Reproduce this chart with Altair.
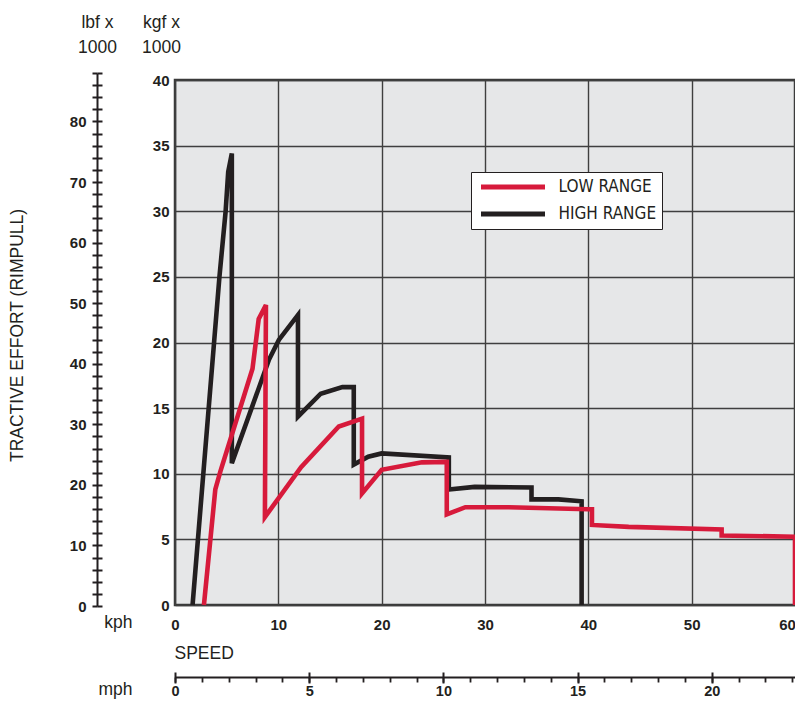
import altair as alt
import pandas as pd

INK = "#231f20"
RED = "#d71a3b"
BLACK = "#231f20"
FONT = "Liberation Sans"
LEGEND_FONT = "DejaVu Sans Condensed, sans-serif"

# ---- data ----
series_names = ["LOW RANGE", "HIGH RANGE"]

high_kph = [1.7, 4.3, 4.9, 5.15, 5.5, 5.5, 9.1, 10.05, 11.9, 11.9, 14.1, 16.2, 17.3, 17.3,
            18.7, 20.0, 26.5, 26.5, 29.0, 34.5, 34.5, 37.1, 39.35, 39.35]
high_kgf = [0.0, 25.0, 30.0, 33.0, 34.4, 10.8, 18.7, 20.2, 22.1, 14.35, 16.1, 16.6, 16.6, 10.7,
            11.3, 11.55, 11.25, 8.8, 9.0, 8.95, 8.05, 8.05, 7.9, 0.0]

low_kph = [2.8, 3.9, 4.4, 7.5, 8.1, 8.8, 8.7, 12.2, 15.85, 18.1, 18.1, 20.0, 23.9, 26.3, 26.3,
           28.1, 32.3, 40.0, 40.35, 40.35, 43.9, 52.9, 52.9, 60.0, 60.0]
low_kgf = [0.0, 8.8, 10.2, 18.0, 21.8, 22.85, 6.7, 10.5, 13.6, 14.2, 8.5, 10.3, 10.87, 10.9, 6.9,
           7.45, 7.45, 7.3, 7.3, 6.1, 5.95, 5.75, 5.3, 5.2, 0.0]

kph_ticks = [0, 10, 20, 30, 40, 50, 60]
kgf_ticks = [0, 5, 10, 15, 20, 25, 30, 35, 40]
lbf_ticks = list(range(0, 89, 2))
mph_minor = list(range(0, 24))
mph_major = [0, 5, 10, 15, 20]

# ---- tables ----
rows = []
for i, (x, y) in enumerate(zip(high_kph, high_kgf)):
    rows.append({"series": "HIGH RANGE", "i": i, "kph": x, "kgf": y})
for i, (x, y) in enumerate(zip(low_kph, low_kgf)):
    rows.append({"series": "LOW RANGE", "i": i, "kph": x, "kgf": y})
lines_df = pd.DataFrame(rows)
lbf_df = pd.DataFrame({"lbf": lbf_ticks})
mph_df = pd.DataFrame({"mph": mph_minor})

color_scale = alt.Scale(domain=series_names, range=[RED, BLACK])

base = alt.Chart(lines_df).encode(
    x=alt.X("kph:Q", scale=alt.Scale(domain=[0, 60], nice=False, zero=True),
            axis=alt.Axis(values=kph_ticks, grid=True, ticks=False, tickSize=0, domain=False,
                          labelPadding=12, labelFontWeight="bold", labelFontSize=15,
                          labelFlush=False,
                          labelOffset=alt.condition("datum.value == 60", alt.value(-8), alt.value(0)),
                          title="kph", titleX=-43, titleY=22, titleAlign="right",
                          titleBaseline="alphabetic", titleFontWeight="normal", titleFontSize=17.5)),
    y=alt.Y("kgf:Q", scale=alt.Scale(domain=[0, 40], nice=False),
            axis=alt.Axis(values=kgf_ticks, grid=True, ticks=False, tickSize=0, domain=False,
                          labelPadding=6, labelFontWeight="bold", labelFontSize=15,
                          title=["kgf x", "1000"], titleAngle=0, titleX=-14, titleY=-53,
                          titleAlign="center", titleBaseline="alphabetic", titleLineHeight=25,
                          titleFontWeight="normal", titleFontSize=17.5)),
    color=alt.Color("series:N", scale=color_scale,
                    legend=alt.Legend(title=None, orient="none", legendX=296, legendY=92,
                                      direction="vertical", fillColor="white",
                                      strokeColor=INK, padding=5, rowPadding=7,
                                      clipHeight=20,
                                      symbolType="stroke", symbolStrokeWidth=5,
                                      symbolSize=4096, symbolOffset=2.5,
                                      labelFont=LEGEND_FONT, labelFontWeight="normal",
                                      labelFontSize=17, labelColor=INK, labelOffset=11,
                                      labelExpr="datum.label + '\u00a0'")),
    order="i:Q",
)

black = base.transform_filter("datum.series == 'HIGH RANGE'").mark_line(
    strokeWidth=4.6, strokeJoin="miter", strokeCap="butt")
red = base.transform_filter("datum.series == 'LOW RANGE'").mark_line(
    strokeWidth=4.6, strokeJoin="miter", strokeCap="butt")
lines = alt.layer(black, red)

lbf_scale = alt.Scale(domain=[0, 88], range=[526, -7], nice=False, zero=True)

lbf_a = alt.Chart(lbf_df).mark_point(opacity=0).encode(
    y=alt.Y("lbf:Q", scale=lbf_scale,
            axis=alt.Axis(orient="left", offset=78, values=lbf_ticks, grid=False,
                          tickSize=5, tickWidth=2, tickColor=INK,
                          domain=True, domainWidth=2, domainColor=INK,
                          labelExpr="datum.value % 10 == 0 ? datum.label : ''",
                          labelOverlap=False, labelPadding=6, labelFontWeight="bold",
                          labelFontSize=15, labelBaseline="middle",
                          title=["lbf x", "1000"], titleAngle=0, titleX=0, titleY=-53,
                          titleAlign="center", titleBaseline="alphabetic",
                          titleLineHeight=25, titleFontWeight="normal", titleFontSize=17.5))
)

lbf_b = alt.Chart(lbf_df).mark_point(opacity=0).encode(
    y=alt.Y("lbf:Q", scale=lbf_scale,
            axis=alt.Axis(orient="left", offset=73, values=lbf_ticks, grid=False,
                          tickSize=5, tickWidth=2, tickColor=INK, domain=False,
                          labels=False,
                          title="TRACTIVE EFFORT (RIMPULL)", titleAngle=270,
                          titleX=-85, titleY=255, titleAlign="center",
                          titleBaseline="middle", titleFontWeight="normal",
                          titleFontSize=17.5))
)

mph_scale = alt.Scale(domain=[0, 23.1], nice=False, zero=True)

mph_a = alt.Chart(mph_df).mark_point(opacity=0).encode(
    x=alt.X("mph:Q", scale=mph_scale,
            axis=alt.Axis(orient="bottom", offset=72, values=mph_minor, grid=False,
                          tickSize=5, tickWidth=1.8, tickColor=INK,
                          domain=True, domainWidth=2, domainColor=INK,
                          labelExpr="datum.value % 5 == 0 ? datum.label : ''",
                          labelOverlap=False, labelFlush=False, labelPadding=2,
                          labelFontWeight="bold", labelFontSize=14.5,
                          title="mph", titleX=-43, titleY=17, titleAlign="right",
                          titleBaseline="alphabetic", titleFontWeight="normal",
                          titleFontSize=17.5))
)

mph_b = alt.Chart(mph_df).mark_point(opacity=0).encode(
    x=alt.X("mph:Q", scale=mph_scale,
            axis=alt.Axis(orient="bottom", offset=67, values=mph_major, grid=False,
                          tickSize=11, tickWidth=2, tickColor=INK, domain=False,
                          labels=False,
                          title="SPEED", titleX=-1, titleY=-19, titleAlign="left",
                          titleBaseline="middle", titleFontWeight="normal",
                          titleFontSize=17.5))
)

chart = alt.layer(lines, lbf_a, lbf_b, mph_a, mph_b).resolve_scale(
    x="independent", y="independent"
).properties(
    width=620, height=525,
    autosize=alt.AutoSizeParams(type="none"),
    padding={"left": 167, "top": 72, "right": 0, "bottom": 96},
).configure_view(
    fill="#e6e7e8", stroke="#3a3a3a", strokeWidth=2.5
).configure_axis(
    labelFont=FONT, titleFont=FONT, labelColor=INK, titleColor=INK,
    gridColor="#3f3f3f", gridWidth=1.4, gridOpacity=1
)

chart.save("out.html", embed_options={"renderer": "svg", "actions": False})
